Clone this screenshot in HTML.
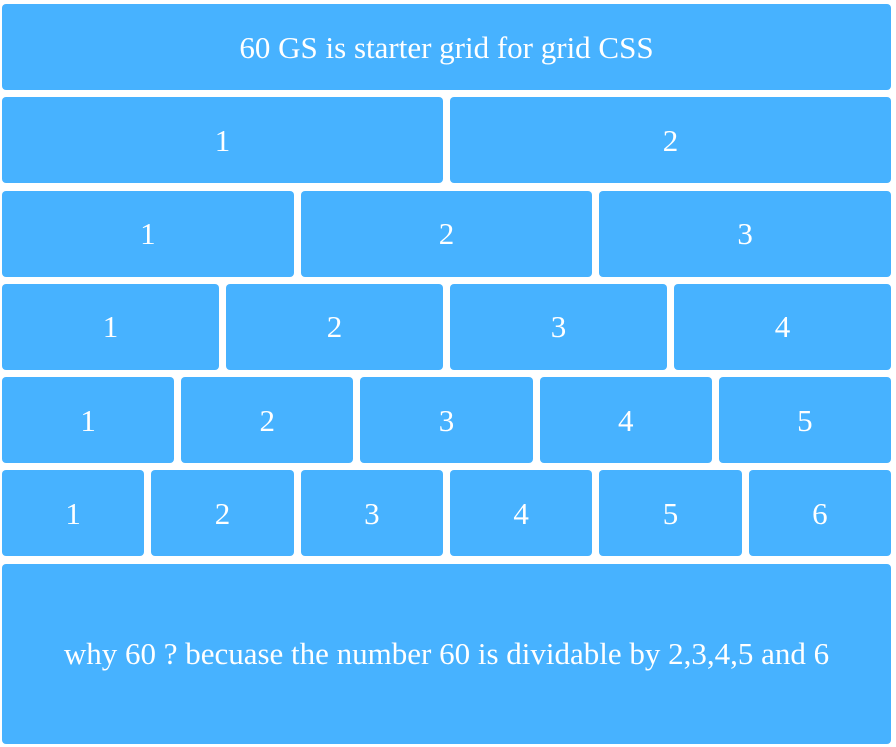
<!DOCTYPE html>
<html><head><meta charset="utf-8"><style>
html,body{margin:0;padding:0;background:#fff;width:896px;height:747px;overflow:hidden}
.grid{position:absolute;left:2px;top:4px;width:889px;display:grid;grid-template-columns:repeat(60,1fr);grid-template-rows:repeat(6,86px) 180px;column-gap:7px;row-gap:7.3px}
.c{background:#47b2ff;border-radius:4px;color:#fff;font-family:"Liberation Serif",serif;font-size:31px;display:flex;align-items:center;justify-content:center;padding-top:1px;box-sizing:border-box}
.s60{grid-column:span 60}.s30{grid-column:span 30}.s20{grid-column:span 20}.s15{grid-column:span 15}.s12{grid-column:span 12}.s10{grid-column:span 10}
</style></head><body>
<div class="grid">
<div class="c s60">60 GS is starter grid for grid CSS</div>
<div class="c s30">1</div>
<div class="c s30">2</div>
<div class="c s20">1</div>
<div class="c s20">2</div>
<div class="c s20">3</div>
<div class="c s15">1</div>
<div class="c s15">2</div>
<div class="c s15">3</div>
<div class="c s15">4</div>
<div class="c s12">1</div>
<div class="c s12">2</div>
<div class="c s12">3</div>
<div class="c s12">4</div>
<div class="c s12">5</div>
<div class="c s10">1</div>
<div class="c s10">2</div>
<div class="c s10">3</div>
<div class="c s10">4</div>
<div class="c s10">5</div>
<div class="c s10">6</div>
<div class="c s60">why 60 ? becuase the number 60 is dividable by 2,3,4,5 and 6</div>
</div>
</body></html>
